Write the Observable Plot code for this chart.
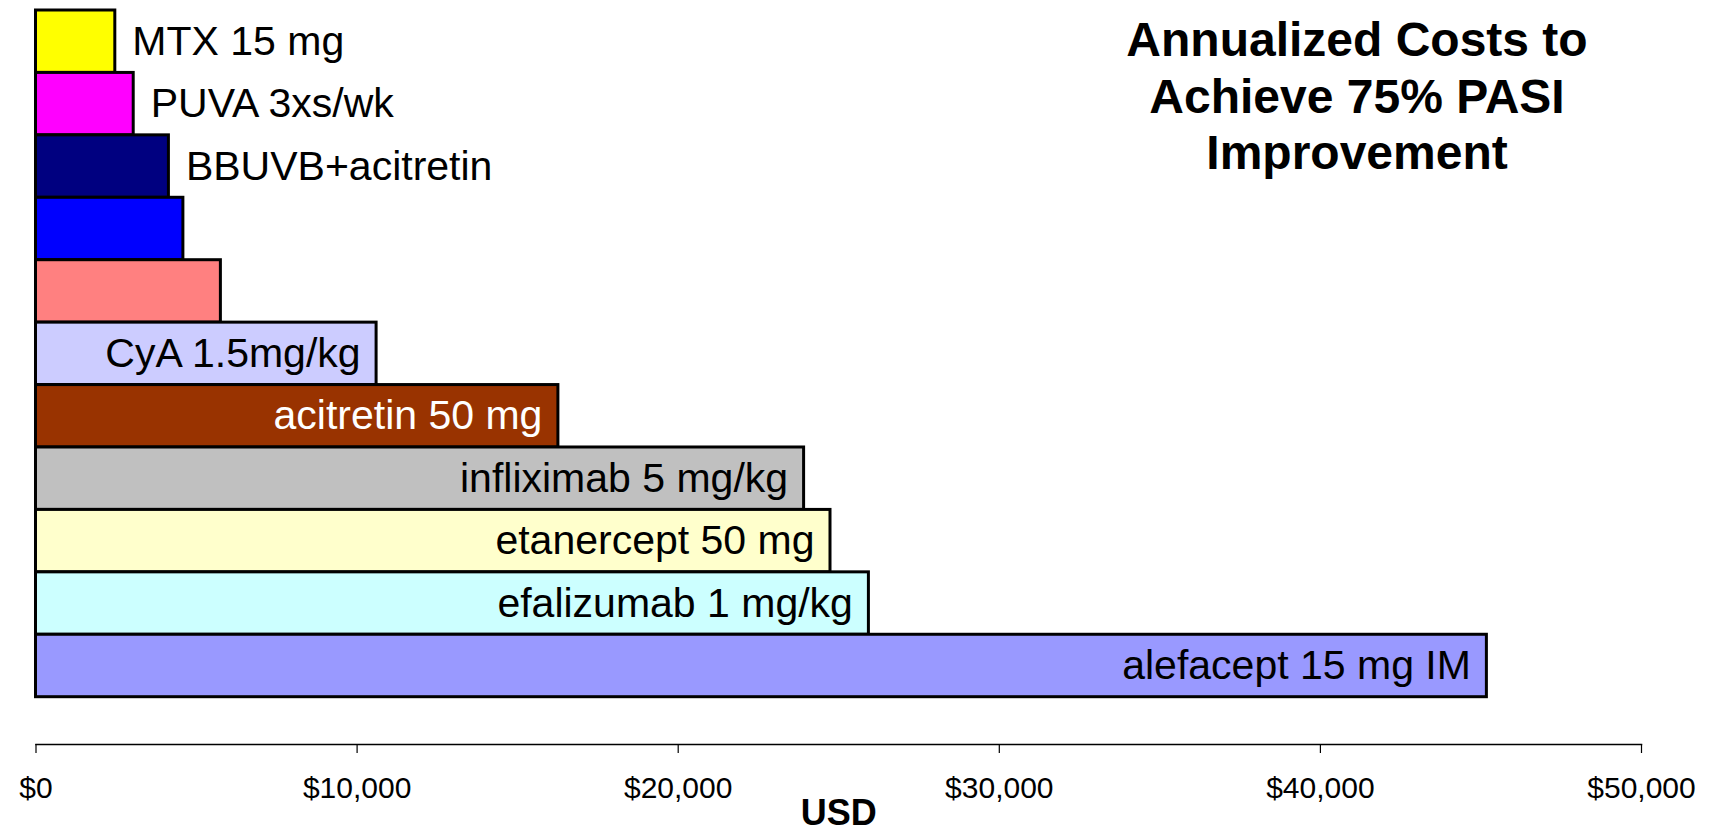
<!DOCTYPE html>
<html><head><meta charset="utf-8">
<script src="https://cdn.jsdelivr.net/npm/d3@7"></script>
<script src="https://cdn.jsdelivr.net/npm/@observablehq/plot@0.6"></script>
<style>
body{margin:0;background:#fff;}
#wrap{position:relative;width:1709px;height:832px;}
#title{position:absolute;left:1057px;top:12px;width:600px;text-align:center;font:bold 48px/56.5px "Liberation Sans",Arial,sans-serif;color:#000;}
</style></head><body>
<div id="wrap"><div id="title"></div></div>
<script>
const treatments = ["MTX 15 mg","PUVA 3xs/wk","BBUVB+acitretin","","","CyA 1.5mg/kg","acitretin 50 mg","infliximab 5 mg/kg","etanercept 50 mg","efalizumab 1 mg/kg","alefacept 15 mg IM"];
const costs = [2470,3043,4139,4590,5758,10607,16269,23921,24743,25939,45185];
const colors = ["#FFFF00","#FF00FF","#000080","#0000FF","#FF8080","#CCCCFF","#993300","#C0C0C0","#FFFFCC","#CCFFFF","#9999FF"];
const xTicks = [0,10000,20000,30000,40000,50000];
const titleLines = ["Annualized Costs to","Achieve 75% PASI","Improvement"];
const xLabel = "USD";

const rows = treatments.map((t,i)=>({i, label:t, cost:costs[i], color:colors[i]}));
document.getElementById("title").innerHTML = titleLines.join("<br>");

const font = '"Liberation Sans", Arial, sans-serif';
const chart = Plot.plot({
  width:1709, height:832,
  marginLeft:35.5, marginRight:68, marginTop:10, marginBottom:88,
  x:{domain:[0,50000], axis:null},
  y:{domain:d3.range(rows.length), range:[10,696.7], padding:0, round:false, axis:null},
  color:{type:"identity"},
  style:{fontFamily:font, background:"transparent", color:"#000"},
  marks:[
    Plot.barX(rows,{x:"cost", y:"i", fill:d=>d.color, stroke:"#000", strokeWidth:3}),
    Plot.text(rows.filter(d=>d.label && d.cost<8000), {x:"cost", y:"i", text:"label", textAnchor:"start", dx:17, fontSize:41, fill:"#000"}),
    Plot.text(rows.filter(d=>d.label && d.cost>=8000), {x:"cost", y:"i", text:"label", textAnchor:"end", dx:-16, fontSize:41, fill:d=>d3.hsl(d.color).l<0.4?"#fff":"#000"}),
    Plot.frame({anchor:"bottom", stroke:"#000", strokeWidth:1.5}),
    Plot.axisX({ticks:xTicks, tickSize:9, tickPadding:23, fontSize:30, strokeWidth:1.2, tickFormat:d=>"$"+d3.format(",")(d), label:null}),
    Plot.text([xLabel], {frameAnchor:"bottom", dy:80, fontWeight:"bold", fontSize:36, lineAnchor:"bottom", fill:"#000"})
  ]
});
chart.style.position="absolute"; chart.style.left="0"; chart.style.top="0";
document.getElementById("wrap").prepend(chart);
</script>
</body></html>
